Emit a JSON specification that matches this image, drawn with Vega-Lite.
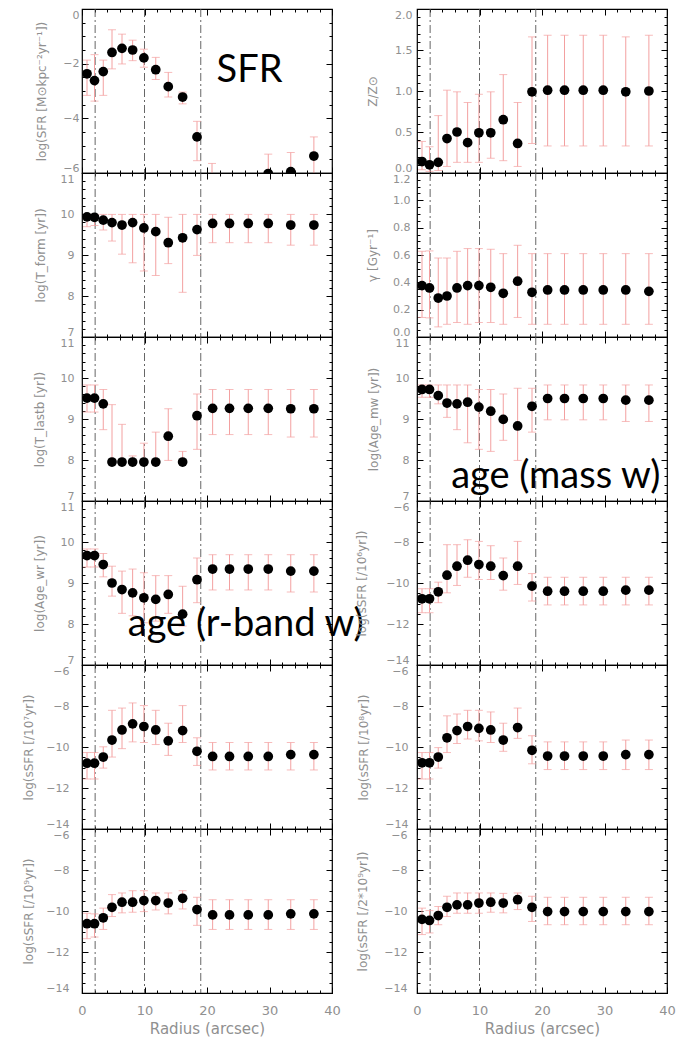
{
"$schema":"https://vega.github.io/schema/vega-lite/v6.json",
"padding":{"left":21,"top":7,"right":5,"bottom":0},
"columns":2,
"spacing":{"row":0,"column":85},
"bounds":"flush",
"datasets":{
"vl":[{"r":2.1},{"r":10},{"r":19}],
"notes":[{"panel":"sfr","r":26.8,"v":-2.68,"label":"SFR"},{"panel":"agemw","r":22.2,"v":7.31,"label":"age (mass w)"},{"panel":"agewr","r":26.2,"v":7.71,"label":"age (r-band w)"}],
"sfr":[{"r":0.8,"v":-2.37,"lo":-3.16,"hi":-1.87},{"r":2.0,"v":-2.62,"lo":-3.37,"hi":-1.67},{"r":3.4,"v":-2.29,"lo":-3.16,"hi":-1.87},{"r":4.8,"v":-1.59,"lo":-2.19,"hi":-0.76},{"r":6.4,"v":-1.44,"lo":-2.01,"hi":-0.92},{"r":8.1,"v":-1.5,"lo":-1.89,"hi":-1.14},{"r":9.9,"v":-1.79,"lo":-2.13,"hi":-1.47},{"r":11.8,"v":-2.22,"lo":-2.58,"hi":-1.77},{"r":13.8,"v":-2.84,"lo":-3.22,"hi":-2.32},{"r":16.1,"v":-3.22,"lo":-3.47,"hi":-3.04},{"r":18.4,"v":-4.68,"lo":-5.55,"hi":-4.11},{"r":20.8,"v":-6.8,"lo":-7.5,"hi":-5.65},{"r":29.8,"v":-6.02,"lo":-6.8,"hi":-5.31},{"r":33.4,"v":-5.95,"lo":-6.7,"hi":-5.25},{"r":37.1,"v":-5.38,"lo":-6.3,"hi":-4.68}],
"z":[{"r":0.8,"v":0.14,"lo":0.04,"hi":0.385},{"r":2.0,"v":0.1,"lo":0.02,"hi":0.32},{"r":3.4,"v":0.13,"lo":0.03,"hi":0.7},{"r":4.8,"v":0.42,"lo":0.08,"hi":1.01},{"r":6.4,"v":0.5,"lo":0.13,"hi":0.99},{"r":8.1,"v":0.37,"lo":0.13,"hi":0.86},{"r":9.9,"v":0.49,"lo":0.13,"hi":0.96},{"r":11.8,"v":0.49,"lo":0.18,"hi":0.99},{"r":13.8,"v":0.65,"lo":0.15,"hi":1.2},{"r":16.1,"v":0.36,"lo":0.08,"hi":0.86},{"r":18.4,"v":0.99,"lo":0.36,"hi":1.66},{"r":20.9,"v":1.01,"lo":0.33,"hi":1.68},{"r":23.6,"v":1.01,"lo":0.33,"hi":1.68},{"r":26.6,"v":1.01,"lo":0.33,"hi":1.68},{"r":29.8,"v":1.01,"lo":0.33,"hi":1.68},{"r":33.4,"v":0.99,"lo":0.33,"hi":1.66},{"r":37.1,"v":1.0,"lo":0.33,"hi":1.68}],
"tform":[{"r":0.8,"v":9.93,"lo":9.69,"hi":9.99},{"r":2.0,"v":9.92,"lo":9.72,"hi":9.99},{"r":3.4,"v":9.85,"lo":9.61,"hi":9.99},{"r":4.8,"v":9.79,"lo":9.34,"hi":9.99},{"r":6.4,"v":9.73,"lo":9.02,"hi":9.99},{"r":8.1,"v":9.79,"lo":8.81,"hi":9.99},{"r":9.9,"v":9.66,"lo":8.61,"hi":9.99},{"r":11.8,"v":9.57,"lo":8.5,"hi":9.99},{"r":13.8,"v":9.3,"lo":8.79,"hi":9.92},{"r":16.1,"v":9.42,"lo":8.09,"hi":9.99},{"r":18.4,"v":9.62,"lo":8.99,"hi":9.99},{"r":20.9,"v":9.77,"lo":9.3,"hi":9.99},{"r":23.6,"v":9.77,"lo":9.3,"hi":9.99},{"r":26.6,"v":9.77,"lo":9.3,"hi":9.99},{"r":29.8,"v":9.77,"lo":9.3,"hi":9.99},{"r":33.4,"v":9.73,"lo":9.24,"hi":9.99},{"r":37.1,"v":9.73,"lo":9.24,"hi":9.99}],
"gamma":[{"r":0.8,"v":0.376,"lo":0.143,"hi":0.627},{"r":2.0,"v":0.359,"lo":0.14,"hi":0.63},{"r":3.4,"v":0.285,"lo":0.074,"hi":0.578},{"r":4.8,"v":0.3,"lo":0.093,"hi":0.578},{"r":6.4,"v":0.359,"lo":0.106,"hi":0.627},{"r":8.1,"v":0.376,"lo":0.093,"hi":0.647},{"r":9.9,"v":0.376,"lo":0.106,"hi":0.647},{"r":11.8,"v":0.364,"lo":0.106,"hi":0.642},{"r":13.8,"v":0.32,"lo":0.093,"hi":0.61},{"r":16.1,"v":0.408,"lo":0.143,"hi":0.671},{"r":18.4,"v":0.327,"lo":0.093,"hi":0.61},{"r":20.9,"v":0.344,"lo":0.093,"hi":0.61},{"r":23.6,"v":0.344,"lo":0.093,"hi":0.61},{"r":26.6,"v":0.344,"lo":0.093,"hi":0.61},{"r":29.8,"v":0.344,"lo":0.093,"hi":0.61},{"r":33.4,"v":0.344,"lo":0.093,"hi":0.61},{"r":37.1,"v":0.334,"lo":0.093,"hi":0.61}],
"tlast":[{"r":0.8,"v":9.51,"lo":9.17,"hi":9.83},{"r":2.0,"v":9.51,"lo":9.17,"hi":9.83},{"r":3.4,"v":9.37,"lo":8.74,"hi":9.72},{"r":4.8,"v":7.95,"lo":7.95,"hi":9.35},{"r":6.4,"v":7.95,"lo":7.95,"hi":8.87},{"r":8.1,"v":7.95,"lo":7.95,"hi":8.1},{"r":9.9,"v":7.95,"lo":7.95,"hi":8.41},{"r":11.8,"v":7.95,"lo":7.95,"hi":8.68},{"r":13.8,"v":8.58,"lo":7.99,"hi":9.25},{"r":16.1,"v":7.95,"lo":7.95,"hi":8.21},{"r":18.4,"v":9.08,"lo":8.26,"hi":9.61},{"r":20.9,"v":9.26,"lo":8.62,"hi":9.72},{"r":23.6,"v":9.26,"lo":8.62,"hi":9.72},{"r":26.6,"v":9.26,"lo":8.62,"hi":9.72},{"r":29.8,"v":9.26,"lo":8.62,"hi":9.72},{"r":33.4,"v":9.25,"lo":8.56,"hi":9.72},{"r":37.1,"v":9.25,"lo":8.56,"hi":9.72}],
"agemw":[{"r":0.8,"v":9.72,"lo":9.53,"hi":9.83},{"r":2.0,"v":9.72,"lo":9.53,"hi":9.83},{"r":3.4,"v":9.57,"lo":9.37,"hi":9.83},{"r":4.8,"v":9.39,"lo":9.04,"hi":9.83},{"r":6.4,"v":9.37,"lo":8.74,"hi":9.83},{"r":8.1,"v":9.41,"lo":8.42,"hi":9.83},{"r":9.9,"v":9.29,"lo":8.26,"hi":9.72},{"r":11.8,"v":9.19,"lo":8.21,"hi":9.72},{"r":13.8,"v":8.99,"lo":8.48,"hi":9.61},{"r":16.1,"v":8.83,"lo":7.99,"hi":9.75},{"r":18.4,"v":9.31,"lo":8.68,"hi":9.75},{"r":20.9,"v":9.5,"lo":8.98,"hi":9.83},{"r":23.6,"v":9.5,"lo":8.98,"hi":9.83},{"r":26.6,"v":9.5,"lo":8.98,"hi":9.83},{"r":29.8,"v":9.5,"lo":8.98,"hi":9.83},{"r":33.4,"v":9.46,"lo":8.94,"hi":9.83},{"r":37.1,"v":9.46,"lo":8.94,"hi":9.83}],
"agewr":[{"r":0.8,"v":9.67,"lo":9.39,"hi":9.83},{"r":2.0,"v":9.67,"lo":9.39,"hi":9.83},{"r":3.4,"v":9.45,"lo":9.15,"hi":9.72},{"r":4.8,"v":9.0,"lo":8.68,"hi":9.41},{"r":6.4,"v":8.84,"lo":8.26,"hi":9.29},{"r":8.1,"v":8.76,"lo":8.2,"hi":9.34},{"r":9.9,"v":8.64,"lo":8.03,"hi":9.25},{"r":11.8,"v":8.6,"lo":8.07,"hi":9.18},{"r":13.8,"v":8.72,"lo":8.26,"hi":9.18},{"r":16.1,"v":8.24,"lo":7.95,"hi":8.92},{"r":18.4,"v":9.08,"lo":8.52,"hi":9.61},{"r":20.9,"v":9.34,"lo":8.83,"hi":9.69},{"r":23.6,"v":9.34,"lo":8.83,"hi":9.69},{"r":26.6,"v":9.34,"lo":8.83,"hi":9.69},{"r":29.8,"v":9.34,"lo":8.83,"hi":9.69},{"r":33.4,"v":9.29,"lo":8.78,"hi":9.69},{"r":37.1,"v":9.29,"lo":8.78,"hi":9.69}],
"ssfr6":[{"r":0.8,"v":-10.77,"lo":-11.45,"hi":-10.28},{"r":2.0,"v":-10.77,"lo":-11.45,"hi":-10.28},{"r":3.4,"v":-10.43,"lo":-10.96,"hi":-9.96},{"r":4.8,"v":-9.62,"lo":-10.48,"hi":-8.13},{"r":6.4,"v":-9.18,"lo":-10.12,"hi":-8.13},{"r":8.1,"v":-8.89,"lo":-9.72,"hi":-7.89},{"r":9.9,"v":-9.1,"lo":-9.83,"hi":-7.97},{"r":11.8,"v":-9.18,"lo":-9.83,"hi":-8.18},{"r":13.8,"v":-9.64,"lo":-10.35,"hi":-8.78},{"r":16.1,"v":-9.18,"lo":-10.07,"hi":-7.97},{"r":18.4,"v":-10.15,"lo":-10.88,"hi":-9.54},{"r":20.9,"v":-10.4,"lo":-11.07,"hi":-9.72},{"r":23.6,"v":-10.4,"lo":-11.07,"hi":-9.72},{"r":26.6,"v":-10.4,"lo":-11.07,"hi":-9.72},{"r":29.8,"v":-10.4,"lo":-11.07,"hi":-9.72},{"r":33.4,"v":-10.35,"lo":-11.07,"hi":-9.72},{"r":37.1,"v":-10.35,"lo":-11.07,"hi":-9.72}],
"ssfr7":[{"r":0.8,"v":-10.79,"lo":-11.56,"hi":-10.27},{"r":2.0,"v":-10.79,"lo":-11.56,"hi":-10.27},{"r":3.4,"v":-10.49,"lo":-11.03,"hi":-9.99},{"r":4.8,"v":-9.66,"lo":-10.49,"hi":-8.21},{"r":6.4,"v":-9.17,"lo":-10.08,"hi":-8.1},{"r":8.1,"v":-8.87,"lo":-9.75,"hi":-7.85},{"r":9.9,"v":-9.0,"lo":-9.78,"hi":-7.98},{"r":11.8,"v":-9.17,"lo":-9.88,"hi":-8.21},{"r":13.8,"v":-9.7,"lo":-10.41,"hi":-8.84},{"r":16.1,"v":-9.2,"lo":-9.78,"hi":-7.98},{"r":18.4,"v":-10.21,"lo":-10.9,"hi":-9.55},{"r":20.9,"v":-10.46,"lo":-11.12,"hi":-9.78},{"r":23.6,"v":-10.46,"lo":-11.12,"hi":-9.78},{"r":26.6,"v":-10.46,"lo":-11.12,"hi":-9.78},{"r":29.8,"v":-10.46,"lo":-11.12,"hi":-9.78},{"r":33.4,"v":-10.37,"lo":-11.12,"hi":-9.78},{"r":37.1,"v":-10.37,"lo":-11.12,"hi":-9.78}],
"ssfr8":[{"r":0.8,"v":-10.77,"lo":-11.56,"hi":-10.27},{"r":2.0,"v":-10.77,"lo":-11.56,"hi":-10.27},{"r":3.4,"v":-10.49,"lo":-11.03,"hi":-10.03},{"r":4.8,"v":-9.55,"lo":-10.27,"hi":-8.48},{"r":6.4,"v":-9.2,"lo":-9.83,"hi":-8.39},{"r":8.1,"v":-9.0,"lo":-9.61,"hi":-8.21},{"r":9.9,"v":-9.09,"lo":-9.7,"hi":-8.21},{"r":11.8,"v":-9.17,"lo":-9.78,"hi":-8.29},{"r":13.8,"v":-9.66,"lo":-10.21,"hi":-8.84},{"r":16.1,"v":-9.05,"lo":-9.58,"hi":-8.1},{"r":18.4,"v":-10.16,"lo":-10.82,"hi":-9.45},{"r":20.9,"v":-10.44,"lo":-11.1,"hi":-9.75},{"r":23.6,"v":-10.44,"lo":-11.1,"hi":-9.75},{"r":26.6,"v":-10.44,"lo":-11.1,"hi":-9.75},{"r":29.8,"v":-10.44,"lo":-11.1,"hi":-9.75},{"r":33.4,"v":-10.37,"lo":-11.1,"hi":-9.66},{"r":37.1,"v":-10.37,"lo":-11.1,"hi":-9.66}],
"ssfr9":[{"r":0.8,"v":-10.62,"lo":-11.35,"hi":-10.11},{"r":2.0,"v":-10.62,"lo":-11.27,"hi":-10.14},{"r":3.4,"v":-10.33,"lo":-10.9,"hi":-9.86},{"r":4.8,"v":-9.82,"lo":-10.27,"hi":-9.2},{"r":6.4,"v":-9.57,"lo":-10.09,"hi":-9.12},{"r":8.1,"v":-9.57,"lo":-10.06,"hi":-9.01},{"r":9.9,"v":-9.49,"lo":-10.03,"hi":-9.01},{"r":11.8,"v":-9.49,"lo":-9.95,"hi":-9.12},{"r":13.8,"v":-9.61,"lo":-10.14,"hi":-9.12},{"r":16.1,"v":-9.38,"lo":-9.9,"hi":-9.01},{"r":18.4,"v":-9.93,"lo":-10.7,"hi":-9.33},{"r":20.9,"v":-10.19,"lo":-10.9,"hi":-9.45},{"r":23.6,"v":-10.19,"lo":-10.9,"hi":-9.45},{"r":26.6,"v":-10.19,"lo":-10.9,"hi":-9.45},{"r":29.8,"v":-10.19,"lo":-10.9,"hi":-9.45},{"r":33.4,"v":-10.14,"lo":-10.9,"hi":-9.45},{"r":37.1,"v":-10.14,"lo":-10.9,"hi":-9.45}],
"ssfr2e9":[{"r":0.8,"v":-10.41,"lo":-11.15,"hi":-9.86},{"r":2.0,"v":-10.46,"lo":-11.07,"hi":-9.98},{"r":3.4,"v":-10.22,"lo":-10.67,"hi":-9.78},{"r":4.8,"v":-9.82,"lo":-10.27,"hi":-9.28},{"r":6.4,"v":-9.7,"lo":-10.11,"hi":-9.12},{"r":8.1,"v":-9.7,"lo":-10.11,"hi":-9.12},{"r":9.9,"v":-9.61,"lo":-10.11,"hi":-9.12},{"r":11.8,"v":-9.57,"lo":-10.06,"hi":-9.12},{"r":13.8,"v":-9.61,"lo":-10.09,"hi":-9.14},{"r":16.1,"v":-9.45,"lo":-9.93,"hi":-9.12},{"r":18.4,"v":-9.82,"lo":-10.51,"hi":-9.28},{"r":20.9,"v":-10.03,"lo":-10.67,"hi":-9.33},{"r":23.6,"v":-10.03,"lo":-10.67,"hi":-9.33},{"r":26.6,"v":-10.03,"lo":-10.67,"hi":-9.33},{"r":29.8,"v":-10.03,"lo":-10.67,"hi":-9.33},{"r":33.4,"v":-10.03,"lo":-10.67,"hi":-9.33},{"r":37.1,"v":-10.03,"lo":-10.67,"hi":-9.33}]
},
"concat":[
{"width":250,"height":164,"data":{"name":"sfr"},"layer":[
{"data":{"name":"vl"},"mark":{"type":"rule","color":"#555555","strokeDash":[8,3,2,3],"strokeWidth":0.9},"encoding":{"x":{"field":"r","type":"quantitative","scale":{"domain":[0,40],"nice":false},"axis":null}}},
{"mark":{"type":"rule","color":"#f3a0a0","strokeWidth":1,"clip":true},"encoding":{"x":{"field":"r","type":"quantitative","scale":{"domain":[0,40],"nice":false},"axis":{"orient":"top","values":[0,10,20,30,40],"labels":false,"tickSize":-6,"title":null}},"y":{"field":"lo","type":"quantitative","scale":{"domain":[-6,0],"nice":false,"zero":false},"axis":{"orient":"right","values":[-6,-4,-2,0],"labels":false,"tickSize":-6,"title":null}},"y2":{"field":"hi"}}},
{"mark":{"type":"tick","orient":"horizontal","color":"#f3a0a0","size":8,"thickness":1,"clip":true},"encoding":{"x":{"field":"r","type":"quantitative","scale":{"domain":[0,40],"nice":false},"axis":{"orient":"bottom","values":[0,2,4,6,8,10,12,14,16,18,20,22,24,26,28,30,32,34,36,38,40],"labels":false,"tickSize":-3,"title":null}},"y":{"field":"lo","type":"quantitative","scale":{"domain":[-6,0],"nice":false,"zero":false},"axis":{"orient":"left","values":[-6,-5.5,-5,-4.5,-4,-3.5,-3,-2.5,-2,-1.5,-1,-0.5,0],"labels":false,"tickSize":-3,"title":null}}}},
{"mark":{"type":"tick","orient":"horizontal","color":"#f3a0a0","size":8,"thickness":1,"clip":true},"encoding":{"x":{"field":"r","type":"quantitative","scale":{"domain":[0,40],"nice":false},"axis":{"orient":"top","values":[0,2,4,6,8,10,12,14,16,18,20,22,24,26,28,30,32,34,36,38,40],"labels":false,"tickSize":-3,"title":null}},"y":{"field":"hi","type":"quantitative","scale":{"domain":[-6,0],"nice":false,"zero":false},"axis":{"orient":"right","values":[-6,-5.5,-5,-4.5,-4,-3.5,-3,-2.5,-2,-1.5,-1,-0.5,0],"labels":false,"tickSize":-3,"title":null}}}},
{"mark":{"type":"circle","color":"black","opacity":1,"size":95,"clip":true},"encoding":{"x":{"field":"r","type":"quantitative","scale":{"domain":[0,40],"nice":false},"axis":{"orient":"bottom","values":[0,10,20,30,40],"labels":false,"tickSize":-6,"title":null}},"y":{"field":"v","type":"quantitative","scale":{"domain":[-6,0],"nice":false,"zero":false},"axis":{"orient":"left","values":[-6,-4,-2,0],"tickSize":-6,"labelFlush":true,"labelPadding":9,"title":"log(SFR [M⊙kpc⁻²yr⁻¹])","titleX":-41,"titleBaseline":"middle"}}}},
{"data":{"name":"notes"},"transform":[{"filter":"datum.panel==='sfr'"}],"mark":{"type":"text","font":"Lato","fontSize":38,"color":"black","align":"center","baseline":"alphabetic"},"encoding":{"x":{"field":"r","type":"quantitative","scale":{"domain":[0,40],"nice":false},"axis":null},"y":{"field":"v","type":"quantitative","scale":{"domain":[-6,0],"nice":false,"zero":false},"axis":null},"text":{"field":"label"}}}
],"resolve":{"axis":{"x":"independent","y":"independent"}}},

{"width":250,"height":164,"data":{"name":"z"},"layer":[
{"data":{"name":"vl"},"mark":{"type":"rule","color":"#555555","strokeDash":[8,3,2,3],"strokeWidth":0.9},"encoding":{"x":{"field":"r","type":"quantitative","scale":{"domain":[0,40],"nice":false},"axis":null}}},
{"mark":{"type":"rule","color":"#f3a0a0","strokeWidth":1,"clip":true},"encoding":{"x":{"field":"r","type":"quantitative","scale":{"domain":[0,40],"nice":false},"axis":{"orient":"top","values":[0,10,20,30,40],"labels":false,"tickSize":-6,"title":null}},"y":{"field":"lo","type":"quantitative","scale":{"domain":[0,2],"nice":false,"zero":false},"axis":{"orient":"right","values":[0,0.5,1,1.5,2],"labels":false,"tickSize":-6,"title":null}},"y2":{"field":"hi"}}},
{"mark":{"type":"tick","orient":"horizontal","color":"#f3a0a0","size":8,"thickness":1,"clip":true},"encoding":{"x":{"field":"r","type":"quantitative","scale":{"domain":[0,40],"nice":false},"axis":{"orient":"bottom","values":[0,2,4,6,8,10,12,14,16,18,20,22,24,26,28,30,32,34,36,38,40],"labels":false,"tickSize":-3,"title":null}},"y":{"field":"lo","type":"quantitative","scale":{"domain":[0,2],"nice":false,"zero":false},"axis":{"orient":"left","values":[0,0.1,0.2,0.3,0.4,0.5,0.6,0.7,0.8,0.9,1,1.1,1.2,1.3,1.4,1.5,1.6,1.7,1.8,1.9,2],"labels":false,"tickSize":-3,"title":null}}}},
{"mark":{"type":"tick","orient":"horizontal","color":"#f3a0a0","size":8,"thickness":1,"clip":true},"encoding":{"x":{"field":"r","type":"quantitative","scale":{"domain":[0,40],"nice":false},"axis":{"orient":"top","values":[0,2,4,6,8,10,12,14,16,18,20,22,24,26,28,30,32,34,36,38,40],"labels":false,"tickSize":-3,"title":null}},"y":{"field":"hi","type":"quantitative","scale":{"domain":[0,2],"nice":false,"zero":false},"axis":{"orient":"right","values":[0,0.1,0.2,0.3,0.4,0.5,0.6,0.7,0.8,0.9,1,1.1,1.2,1.3,1.4,1.5,1.6,1.7,1.8,1.9,2],"labels":false,"tickSize":-3,"title":null}}}},
{"mark":{"type":"circle","color":"black","opacity":1,"size":95,"clip":true},"encoding":{"x":{"field":"r","type":"quantitative","scale":{"domain":[0,40],"nice":false},"axis":{"orient":"bottom","values":[0,10,20,30,40],"labels":false,"tickSize":-6,"title":null}},"y":{"field":"v","type":"quantitative","scale":{"domain":[0,2],"nice":false,"zero":false},"axis":{"orient":"left","values":[0,0.5,1,1.5,2],"format":".1f","tickSize":-6,"labelFlush":true,"labelPadding":11,"title":"Z/Z⊙","titleX":-45,"titleBaseline":"middle"}}}}
],"resolve":{"axis":{"x":"independent","y":"independent"}}},

{"width":250,"height":164,"data":{"name":"tform"},"layer":[
{"data":{"name":"vl"},"mark":{"type":"rule","color":"#555555","strokeDash":[8,3,2,3],"strokeWidth":0.9},"encoding":{"x":{"field":"r","type":"quantitative","scale":{"domain":[0,40],"nice":false},"axis":null}}},
{"mark":{"type":"rule","color":"#f3a0a0","strokeWidth":1,"clip":true},"encoding":{"x":{"field":"r","type":"quantitative","scale":{"domain":[0,40],"nice":false},"axis":{"orient":"top","values":[0,10,20,30,40],"labels":false,"tickSize":-6,"title":null}},"y":{"field":"lo","type":"quantitative","scale":{"domain":[7,11],"nice":false,"zero":false},"axis":{"orient":"right","values":[7,8,9,10,11],"labels":false,"tickSize":-6,"title":null}},"y2":{"field":"hi"}}},
{"mark":{"type":"tick","orient":"horizontal","color":"#f3a0a0","size":8,"thickness":1,"clip":true},"encoding":{"x":{"field":"r","type":"quantitative","scale":{"domain":[0,40],"nice":false},"axis":{"orient":"bottom","values":[0,2,4,6,8,10,12,14,16,18,20,22,24,26,28,30,32,34,36,38,40],"labels":false,"tickSize":-3,"title":null}},"y":{"field":"lo","type":"quantitative","scale":{"domain":[7,11],"nice":false,"zero":false},"axis":{"orient":"left","values":[7,7.2,7.4,7.6,7.8,8,8.2,8.4,8.6,8.8,9,9.2,9.4,9.6,9.8,10,10.2,10.4,10.6,10.8,11],"labels":false,"tickSize":-3,"title":null}}}},
{"mark":{"type":"tick","orient":"horizontal","color":"#f3a0a0","size":8,"thickness":1,"clip":true},"encoding":{"x":{"field":"r","type":"quantitative","scale":{"domain":[0,40],"nice":false},"axis":{"orient":"top","values":[0,2,4,6,8,10,12,14,16,18,20,22,24,26,28,30,32,34,36,38,40],"labels":false,"tickSize":-3,"title":null}},"y":{"field":"hi","type":"quantitative","scale":{"domain":[7,11],"nice":false,"zero":false},"axis":{"orient":"right","values":[7,7.2,7.4,7.6,7.8,8,8.2,8.4,8.6,8.8,9,9.2,9.4,9.6,9.8,10,10.2,10.4,10.6,10.8,11],"labels":false,"tickSize":-3,"title":null}}}},
{"mark":{"type":"circle","color":"black","opacity":1,"size":95,"clip":true},"encoding":{"x":{"field":"r","type":"quantitative","scale":{"domain":[0,40],"nice":false},"axis":{"orient":"bottom","values":[0,10,20,30,40],"labels":false,"tickSize":-6,"title":null}},"y":{"field":"v","type":"quantitative","scale":{"domain":[7,11],"nice":false,"zero":false},"axis":{"orient":"left","values":[7,8,9,10,11],"tickSize":-6,"labelFlush":true,"labelPadding":14,"title":"log(T_form [yr])","titleX":-42,"titleBaseline":"middle"}}}}
],"resolve":{"axis":{"x":"independent","y":"independent"}}},

{"width":250,"height":164,"data":{"name":"gamma"},"layer":[
{"data":{"name":"vl"},"mark":{"type":"rule","color":"#555555","strokeDash":[8,3,2,3],"strokeWidth":0.9},"encoding":{"x":{"field":"r","type":"quantitative","scale":{"domain":[0,40],"nice":false},"axis":null}}},
{"mark":{"type":"rule","color":"#f3a0a0","strokeWidth":1,"clip":true},"encoding":{"x":{"field":"r","type":"quantitative","scale":{"domain":[0,40],"nice":false},"axis":{"orient":"top","values":[0,10,20,30,40],"labels":false,"tickSize":-6,"title":null}},"y":{"field":"lo","type":"quantitative","scale":{"domain":[0,1.2],"nice":false,"zero":false},"axis":{"orient":"right","values":[0,0.2,0.4,0.6,0.8,1,1.2],"labels":false,"tickSize":-6,"title":null}},"y2":{"field":"hi"}}},
{"mark":{"type":"tick","orient":"horizontal","color":"#f3a0a0","size":8,"thickness":1,"clip":true},"encoding":{"x":{"field":"r","type":"quantitative","scale":{"domain":[0,40],"nice":false},"axis":{"orient":"bottom","values":[0,2,4,6,8,10,12,14,16,18,20,22,24,26,28,30,32,34,36,38,40],"labels":false,"tickSize":-3,"title":null}},"y":{"field":"lo","type":"quantitative","scale":{"domain":[0,1.2],"nice":false,"zero":false},"axis":{"orient":"left","values":[0,0.05,0.1,0.15,0.2,0.25,0.3,0.35,0.4,0.45,0.5,0.55,0.6,0.65,0.7,0.75,0.8,0.85,0.9,0.95,1,1.05,1.1,1.15,1.2],"labels":false,"tickSize":-3,"title":null}}}},
{"mark":{"type":"tick","orient":"horizontal","color":"#f3a0a0","size":8,"thickness":1,"clip":true},"encoding":{"x":{"field":"r","type":"quantitative","scale":{"domain":[0,40],"nice":false},"axis":{"orient":"top","values":[0,2,4,6,8,10,12,14,16,18,20,22,24,26,28,30,32,34,36,38,40],"labels":false,"tickSize":-3,"title":null}},"y":{"field":"hi","type":"quantitative","scale":{"domain":[0,1.2],"nice":false,"zero":false},"axis":{"orient":"right","values":[0,0.05,0.1,0.15,0.2,0.25,0.3,0.35,0.4,0.45,0.5,0.55,0.6,0.65,0.7,0.75,0.8,0.85,0.9,0.95,1,1.05,1.1,1.15,1.2],"labels":false,"tickSize":-3,"title":null}}}},
{"mark":{"type":"circle","color":"black","opacity":1,"size":95,"clip":true},"encoding":{"x":{"field":"r","type":"quantitative","scale":{"domain":[0,40],"nice":false},"axis":{"orient":"bottom","values":[0,10,20,30,40],"labels":false,"tickSize":-6,"title":null}},"y":{"field":"v","type":"quantitative","scale":{"domain":[0,1.2],"nice":false,"zero":false},"axis":{"orient":"left","values":[0,0.2,0.4,0.6,0.8,1,1.2],"format":".1f","tickSize":-6,"labelFlush":true,"labelPadding":13,"title":"γ [Gyr⁻¹]","titleX":-45,"titleBaseline":"middle"}}}}
],"resolve":{"axis":{"x":"independent","y":"independent"}}},

{"width":250,"height":164,"data":{"name":"tlast"},"layer":[
{"data":{"name":"vl"},"mark":{"type":"rule","color":"#555555","strokeDash":[8,3,2,3],"strokeWidth":0.9},"encoding":{"x":{"field":"r","type":"quantitative","scale":{"domain":[0,40],"nice":false},"axis":null}}},
{"mark":{"type":"rule","color":"#f3a0a0","strokeWidth":1,"clip":true},"encoding":{"x":{"field":"r","type":"quantitative","scale":{"domain":[0,40],"nice":false},"axis":{"orient":"top","values":[0,10,20,30,40],"labels":false,"tickSize":-6,"title":null}},"y":{"field":"lo","type":"quantitative","scale":{"domain":[7,11],"nice":false,"zero":false},"axis":{"orient":"right","values":[7,8,9,10,11],"labels":false,"tickSize":-6,"title":null}},"y2":{"field":"hi"}}},
{"mark":{"type":"tick","orient":"horizontal","color":"#f3a0a0","size":8,"thickness":1,"clip":true},"encoding":{"x":{"field":"r","type":"quantitative","scale":{"domain":[0,40],"nice":false},"axis":{"orient":"bottom","values":[0,2,4,6,8,10,12,14,16,18,20,22,24,26,28,30,32,34,36,38,40],"labels":false,"tickSize":-3,"title":null}},"y":{"field":"lo","type":"quantitative","scale":{"domain":[7,11],"nice":false,"zero":false},"axis":{"orient":"left","values":[7,7.2,7.4,7.6,7.8,8,8.2,8.4,8.6,8.8,9,9.2,9.4,9.6,9.8,10,10.2,10.4,10.6,10.8,11],"labels":false,"tickSize":-3,"title":null}}}},
{"mark":{"type":"tick","orient":"horizontal","color":"#f3a0a0","size":8,"thickness":1,"clip":true},"encoding":{"x":{"field":"r","type":"quantitative","scale":{"domain":[0,40],"nice":false},"axis":{"orient":"top","values":[0,2,4,6,8,10,12,14,16,18,20,22,24,26,28,30,32,34,36,38,40],"labels":false,"tickSize":-3,"title":null}},"y":{"field":"hi","type":"quantitative","scale":{"domain":[7,11],"nice":false,"zero":false},"axis":{"orient":"right","values":[7,7.2,7.4,7.6,7.8,8,8.2,8.4,8.6,8.8,9,9.2,9.4,9.6,9.8,10,10.2,10.4,10.6,10.8,11],"labels":false,"tickSize":-3,"title":null}}}},
{"mark":{"type":"circle","color":"black","opacity":1,"size":95,"clip":true},"encoding":{"x":{"field":"r","type":"quantitative","scale":{"domain":[0,40],"nice":false},"axis":{"orient":"bottom","values":[0,10,20,30,40],"labels":false,"tickSize":-6,"title":null}},"y":{"field":"v","type":"quantitative","scale":{"domain":[7,11],"nice":false,"zero":false},"axis":{"orient":"left","values":[7,8,9,10,11],"tickSize":-6,"labelFlush":true,"labelPadding":14,"title":"log(T_lastb [yr])","titleX":-43,"titleBaseline":"middle"}}}}
],"resolve":{"axis":{"x":"independent","y":"independent"}}},

{"width":250,"height":164,"data":{"name":"agemw"},"layer":[
{"data":{"name":"vl"},"mark":{"type":"rule","color":"#555555","strokeDash":[8,3,2,3],"strokeWidth":0.9},"encoding":{"x":{"field":"r","type":"quantitative","scale":{"domain":[0,40],"nice":false},"axis":null}}},
{"mark":{"type":"rule","color":"#f3a0a0","strokeWidth":1,"clip":true},"encoding":{"x":{"field":"r","type":"quantitative","scale":{"domain":[0,40],"nice":false},"axis":{"orient":"top","values":[0,10,20,30,40],"labels":false,"tickSize":-6,"title":null}},"y":{"field":"lo","type":"quantitative","scale":{"domain":[7,11],"nice":false,"zero":false},"axis":{"orient":"right","values":[7,8,9,10,11],"labels":false,"tickSize":-6,"title":null}},"y2":{"field":"hi"}}},
{"mark":{"type":"tick","orient":"horizontal","color":"#f3a0a0","size":8,"thickness":1,"clip":true},"encoding":{"x":{"field":"r","type":"quantitative","scale":{"domain":[0,40],"nice":false},"axis":{"orient":"bottom","values":[0,2,4,6,8,10,12,14,16,18,20,22,24,26,28,30,32,34,36,38,40],"labels":false,"tickSize":-3,"title":null}},"y":{"field":"lo","type":"quantitative","scale":{"domain":[7,11],"nice":false,"zero":false},"axis":{"orient":"left","values":[7,7.2,7.4,7.6,7.8,8,8.2,8.4,8.6,8.8,9,9.2,9.4,9.6,9.8,10,10.2,10.4,10.6,10.8,11],"labels":false,"tickSize":-3,"title":null}}}},
{"mark":{"type":"tick","orient":"horizontal","color":"#f3a0a0","size":8,"thickness":1,"clip":true},"encoding":{"x":{"field":"r","type":"quantitative","scale":{"domain":[0,40],"nice":false},"axis":{"orient":"top","values":[0,2,4,6,8,10,12,14,16,18,20,22,24,26,28,30,32,34,36,38,40],"labels":false,"tickSize":-3,"title":null}},"y":{"field":"hi","type":"quantitative","scale":{"domain":[7,11],"nice":false,"zero":false},"axis":{"orient":"right","values":[7,7.2,7.4,7.6,7.8,8,8.2,8.4,8.6,8.8,9,9.2,9.4,9.6,9.8,10,10.2,10.4,10.6,10.8,11],"labels":false,"tickSize":-3,"title":null}}}},
{"mark":{"type":"circle","color":"black","opacity":1,"size":95,"clip":true},"encoding":{"x":{"field":"r","type":"quantitative","scale":{"domain":[0,40],"nice":false},"axis":{"orient":"bottom","values":[0,10,20,30,40],"labels":false,"tickSize":-6,"title":null}},"y":{"field":"v","type":"quantitative","scale":{"domain":[7,11],"nice":false,"zero":false},"axis":{"orient":"left","values":[7,8,9,10,11],"tickSize":-6,"labelFlush":true,"labelPadding":14,"title":"log(Age_mw [yr])","titleX":-44,"titleBaseline":"middle"}}}},
{"data":{"name":"notes"},"transform":[{"filter":"datum.panel==='agemw'"}],"mark":{"type":"text","font":"Lato","fontSize":38,"color":"black","align":"center","baseline":"alphabetic"},"encoding":{"x":{"field":"r","type":"quantitative","scale":{"domain":[0,40],"nice":false},"axis":null},"y":{"field":"v","type":"quantitative","scale":{"domain":[7,11],"nice":false,"zero":false},"axis":null},"text":{"field":"label"}}}
],"resolve":{"axis":{"x":"independent","y":"independent"}}},

{"width":250,"height":164,"data":{"name":"agewr"},"layer":[
{"data":{"name":"vl"},"mark":{"type":"rule","color":"#555555","strokeDash":[8,3,2,3],"strokeWidth":0.9},"encoding":{"x":{"field":"r","type":"quantitative","scale":{"domain":[0,40],"nice":false},"axis":null}}},
{"mark":{"type":"rule","color":"#f3a0a0","strokeWidth":1,"clip":true},"encoding":{"x":{"field":"r","type":"quantitative","scale":{"domain":[0,40],"nice":false},"axis":{"orient":"top","values":[0,10,20,30,40],"labels":false,"tickSize":-6,"title":null}},"y":{"field":"lo","type":"quantitative","scale":{"domain":[7,11],"nice":false,"zero":false},"axis":{"orient":"right","values":[7,8,9,10,11],"labels":false,"tickSize":-6,"title":null}},"y2":{"field":"hi"}}},
{"mark":{"type":"tick","orient":"horizontal","color":"#f3a0a0","size":8,"thickness":1,"clip":true},"encoding":{"x":{"field":"r","type":"quantitative","scale":{"domain":[0,40],"nice":false},"axis":{"orient":"bottom","values":[0,2,4,6,8,10,12,14,16,18,20,22,24,26,28,30,32,34,36,38,40],"labels":false,"tickSize":-3,"title":null}},"y":{"field":"lo","type":"quantitative","scale":{"domain":[7,11],"nice":false,"zero":false},"axis":{"orient":"left","values":[7,7.2,7.4,7.6,7.8,8,8.2,8.4,8.6,8.8,9,9.2,9.4,9.6,9.8,10,10.2,10.4,10.6,10.8,11],"labels":false,"tickSize":-3,"title":null}}}},
{"mark":{"type":"tick","orient":"horizontal","color":"#f3a0a0","size":8,"thickness":1,"clip":true},"encoding":{"x":{"field":"r","type":"quantitative","scale":{"domain":[0,40],"nice":false},"axis":{"orient":"top","values":[0,2,4,6,8,10,12,14,16,18,20,22,24,26,28,30,32,34,36,38,40],"labels":false,"tickSize":-3,"title":null}},"y":{"field":"hi","type":"quantitative","scale":{"domain":[7,11],"nice":false,"zero":false},"axis":{"orient":"right","values":[7,7.2,7.4,7.6,7.8,8,8.2,8.4,8.6,8.8,9,9.2,9.4,9.6,9.8,10,10.2,10.4,10.6,10.8,11],"labels":false,"tickSize":-3,"title":null}}}},
{"mark":{"type":"circle","color":"black","opacity":1,"size":95,"clip":true},"encoding":{"x":{"field":"r","type":"quantitative","scale":{"domain":[0,40],"nice":false},"axis":{"orient":"bottom","values":[0,10,20,30,40],"labels":false,"tickSize":-6,"title":null}},"y":{"field":"v","type":"quantitative","scale":{"domain":[7,11],"nice":false,"zero":false},"axis":{"orient":"left","values":[7,8,9,10,11],"tickSize":-6,"labelFlush":true,"labelPadding":14,"title":"log(Age_wr [yr])","titleX":-43,"titleBaseline":"middle"}}}},
{"data":{"name":"notes"},"transform":[{"filter":"datum.panel==='agewr'"}],"mark":{"type":"text","font":"Lato","fontSize":38,"color":"black","align":"center","baseline":"alphabetic"},"encoding":{"x":{"field":"r","type":"quantitative","scale":{"domain":[0,40],"nice":false},"axis":null},"y":{"field":"v","type":"quantitative","scale":{"domain":[7,11],"nice":false,"zero":false},"axis":null},"text":{"field":"label"}}}
],"resolve":{"axis":{"x":"independent","y":"independent"}}},

{"width":250,"height":164,"data":{"name":"ssfr6"},"layer":[
{"data":{"name":"vl"},"mark":{"type":"rule","color":"#555555","strokeDash":[8,3,2,3],"strokeWidth":0.9},"encoding":{"x":{"field":"r","type":"quantitative","scale":{"domain":[0,40],"nice":false},"axis":null}}},
{"mark":{"type":"rule","color":"#f3a0a0","strokeWidth":1,"clip":true},"encoding":{"x":{"field":"r","type":"quantitative","scale":{"domain":[0,40],"nice":false},"axis":{"orient":"top","values":[0,10,20,30,40],"labels":false,"tickSize":-6,"title":null}},"y":{"field":"lo","type":"quantitative","scale":{"domain":[-14,-6],"nice":false,"zero":false},"axis":{"orient":"right","values":[-14,-12,-10,-8,-6],"labels":false,"tickSize":-6,"title":null}},"y2":{"field":"hi"}}},
{"mark":{"type":"tick","orient":"horizontal","color":"#f3a0a0","size":8,"thickness":1,"clip":true},"encoding":{"x":{"field":"r","type":"quantitative","scale":{"domain":[0,40],"nice":false},"axis":{"orient":"bottom","values":[0,2,4,6,8,10,12,14,16,18,20,22,24,26,28,30,32,34,36,38,40],"labels":false,"tickSize":-3,"title":null}},"y":{"field":"lo","type":"quantitative","scale":{"domain":[-14,-6],"nice":false,"zero":false},"axis":{"orient":"left","values":[-14,-13.5,-13,-12.5,-12,-11.5,-11,-10.5,-10,-9.5,-9,-8.5,-8,-7.5,-7,-6.5,-6],"labels":false,"tickSize":-3,"title":null}}}},
{"mark":{"type":"tick","orient":"horizontal","color":"#f3a0a0","size":8,"thickness":1,"clip":true},"encoding":{"x":{"field":"r","type":"quantitative","scale":{"domain":[0,40],"nice":false},"axis":{"orient":"top","values":[0,2,4,6,8,10,12,14,16,18,20,22,24,26,28,30,32,34,36,38,40],"labels":false,"tickSize":-3,"title":null}},"y":{"field":"hi","type":"quantitative","scale":{"domain":[-14,-6],"nice":false,"zero":false},"axis":{"orient":"right","values":[-14,-13.5,-13,-12.5,-12,-11.5,-11,-10.5,-10,-9.5,-9,-8.5,-8,-7.5,-7,-6.5,-6],"labels":false,"tickSize":-3,"title":null}}}},
{"mark":{"type":"circle","color":"black","opacity":1,"size":95,"clip":true},"encoding":{"x":{"field":"r","type":"quantitative","scale":{"domain":[0,40],"nice":false},"axis":{"orient":"bottom","values":[0,10,20,30,40],"labels":false,"tickSize":-6,"title":null}},"y":{"field":"v","type":"quantitative","scale":{"domain":[-14,-6],"nice":false,"zero":false},"axis":{"orient":"left","values":[-14,-12,-10,-8,-6],"tickSize":-6,"labelFlush":true,"labelPadding":14,"title":"log(sSFR [/10⁶yr])","titleX":-56,"titleBaseline":"middle"}}}}
],"resolve":{"axis":{"x":"independent","y":"independent"}}},

{"width":250,"height":164,"data":{"name":"ssfr7"},"layer":[
{"data":{"name":"vl"},"mark":{"type":"rule","color":"#555555","strokeDash":[8,3,2,3],"strokeWidth":0.9},"encoding":{"x":{"field":"r","type":"quantitative","scale":{"domain":[0,40],"nice":false},"axis":null}}},
{"mark":{"type":"rule","color":"#f3a0a0","strokeWidth":1,"clip":true},"encoding":{"x":{"field":"r","type":"quantitative","scale":{"domain":[0,40],"nice":false},"axis":{"orient":"top","values":[0,10,20,30,40],"labels":false,"tickSize":-6,"title":null}},"y":{"field":"lo","type":"quantitative","scale":{"domain":[-14,-6],"nice":false,"zero":false},"axis":{"orient":"right","values":[-14,-12,-10,-8,-6],"labels":false,"tickSize":-6,"title":null}},"y2":{"field":"hi"}}},
{"mark":{"type":"tick","orient":"horizontal","color":"#f3a0a0","size":8,"thickness":1,"clip":true},"encoding":{"x":{"field":"r","type":"quantitative","scale":{"domain":[0,40],"nice":false},"axis":{"orient":"bottom","values":[0,2,4,6,8,10,12,14,16,18,20,22,24,26,28,30,32,34,36,38,40],"labels":false,"tickSize":-3,"title":null}},"y":{"field":"lo","type":"quantitative","scale":{"domain":[-14,-6],"nice":false,"zero":false},"axis":{"orient":"left","values":[-14,-13.5,-13,-12.5,-12,-11.5,-11,-10.5,-10,-9.5,-9,-8.5,-8,-7.5,-7,-6.5,-6],"labels":false,"tickSize":-3,"title":null}}}},
{"mark":{"type":"tick","orient":"horizontal","color":"#f3a0a0","size":8,"thickness":1,"clip":true},"encoding":{"x":{"field":"r","type":"quantitative","scale":{"domain":[0,40],"nice":false},"axis":{"orient":"top","values":[0,2,4,6,8,10,12,14,16,18,20,22,24,26,28,30,32,34,36,38,40],"labels":false,"tickSize":-3,"title":null}},"y":{"field":"hi","type":"quantitative","scale":{"domain":[-14,-6],"nice":false,"zero":false},"axis":{"orient":"right","values":[-14,-13.5,-13,-12.5,-12,-11.5,-11,-10.5,-10,-9.5,-9,-8.5,-8,-7.5,-7,-6.5,-6],"labels":false,"tickSize":-3,"title":null}}}},
{"mark":{"type":"circle","color":"black","opacity":1,"size":95,"clip":true},"encoding":{"x":{"field":"r","type":"quantitative","scale":{"domain":[0,40],"nice":false},"axis":{"orient":"bottom","values":[0,10,20,30,40],"labels":false,"tickSize":-6,"title":null}},"y":{"field":"v","type":"quantitative","scale":{"domain":[-14,-6],"nice":false,"zero":false},"axis":{"orient":"left","values":[-14,-12,-10,-8,-6],"tickSize":-6,"labelFlush":true,"labelPadding":19,"title":"log(sSFR [/10⁷yr])","titleX":-54,"titleBaseline":"middle"}}}}
],"resolve":{"axis":{"x":"independent","y":"independent"}}},

{"width":250,"height":164,"data":{"name":"ssfr8"},"layer":[
{"data":{"name":"vl"},"mark":{"type":"rule","color":"#555555","strokeDash":[8,3,2,3],"strokeWidth":0.9},"encoding":{"x":{"field":"r","type":"quantitative","scale":{"domain":[0,40],"nice":false},"axis":null}}},
{"mark":{"type":"rule","color":"#f3a0a0","strokeWidth":1,"clip":true},"encoding":{"x":{"field":"r","type":"quantitative","scale":{"domain":[0,40],"nice":false},"axis":{"orient":"top","values":[0,10,20,30,40],"labels":false,"tickSize":-6,"title":null}},"y":{"field":"lo","type":"quantitative","scale":{"domain":[-14,-6],"nice":false,"zero":false},"axis":{"orient":"right","values":[-14,-12,-10,-8,-6],"labels":false,"tickSize":-6,"title":null}},"y2":{"field":"hi"}}},
{"mark":{"type":"tick","orient":"horizontal","color":"#f3a0a0","size":8,"thickness":1,"clip":true},"encoding":{"x":{"field":"r","type":"quantitative","scale":{"domain":[0,40],"nice":false},"axis":{"orient":"bottom","values":[0,2,4,6,8,10,12,14,16,18,20,22,24,26,28,30,32,34,36,38,40],"labels":false,"tickSize":-3,"title":null}},"y":{"field":"lo","type":"quantitative","scale":{"domain":[-14,-6],"nice":false,"zero":false},"axis":{"orient":"left","values":[-14,-13.5,-13,-12.5,-12,-11.5,-11,-10.5,-10,-9.5,-9,-8.5,-8,-7.5,-7,-6.5,-6],"labels":false,"tickSize":-3,"title":null}}}},
{"mark":{"type":"tick","orient":"horizontal","color":"#f3a0a0","size":8,"thickness":1,"clip":true},"encoding":{"x":{"field":"r","type":"quantitative","scale":{"domain":[0,40],"nice":false},"axis":{"orient":"top","values":[0,2,4,6,8,10,12,14,16,18,20,22,24,26,28,30,32,34,36,38,40],"labels":false,"tickSize":-3,"title":null}},"y":{"field":"hi","type":"quantitative","scale":{"domain":[-14,-6],"nice":false,"zero":false},"axis":{"orient":"right","values":[-14,-13.5,-13,-12.5,-12,-11.5,-11,-10.5,-10,-9.5,-9,-8.5,-8,-7.5,-7,-6.5,-6],"labels":false,"tickSize":-3,"title":null}}}},
{"mark":{"type":"circle","color":"black","opacity":1,"size":95,"clip":true},"encoding":{"x":{"field":"r","type":"quantitative","scale":{"domain":[0,40],"nice":false},"axis":{"orient":"bottom","values":[0,10,20,30,40],"labels":false,"tickSize":-6,"title":null}},"y":{"field":"v","type":"quantitative","scale":{"domain":[-14,-6],"nice":false,"zero":false},"axis":{"orient":"left","values":[-14,-12,-10,-8,-6],"tickSize":-6,"labelFlush":true,"labelPadding":15,"title":"log(sSFR [/10⁸yr])","titleX":-54,"titleBaseline":"middle"}}}}
],"resolve":{"axis":{"x":"independent","y":"independent"}}},

{"width":250,"height":164,"data":{"name":"ssfr9"},"layer":[
{"data":{"name":"vl"},"mark":{"type":"rule","color":"#555555","strokeDash":[8,3,2,3],"strokeWidth":0.9},"encoding":{"x":{"field":"r","type":"quantitative","scale":{"domain":[0,40],"nice":false},"axis":null}}},
{"mark":{"type":"rule","color":"#f3a0a0","strokeWidth":1,"clip":true},"encoding":{"x":{"field":"r","type":"quantitative","scale":{"domain":[0,40],"nice":false},"axis":{"orient":"top","values":[0,10,20,30,40],"labels":false,"tickSize":-6,"title":null}},"y":{"field":"lo","type":"quantitative","scale":{"domain":[-14,-6],"nice":false,"zero":false},"axis":{"orient":"right","values":[-14,-12,-10,-8,-6],"labels":false,"tickSize":-6,"title":null}},"y2":{"field":"hi"}}},
{"mark":{"type":"tick","orient":"horizontal","color":"#f3a0a0","size":8,"thickness":1,"clip":true},"encoding":{"x":{"field":"r","type":"quantitative","scale":{"domain":[0,40],"nice":false},"axis":{"orient":"bottom","values":[0,2,4,6,8,10,12,14,16,18,20,22,24,26,28,30,32,34,36,38,40],"labels":false,"tickSize":-3,"title":null}},"y":{"field":"lo","type":"quantitative","scale":{"domain":[-14,-6],"nice":false,"zero":false},"axis":{"orient":"left","values":[-14,-13.5,-13,-12.5,-12,-11.5,-11,-10.5,-10,-9.5,-9,-8.5,-8,-7.5,-7,-6.5,-6],"labels":false,"tickSize":-3,"title":null}}}},
{"mark":{"type":"tick","orient":"horizontal","color":"#f3a0a0","size":8,"thickness":1,"clip":true},"encoding":{"x":{"field":"r","type":"quantitative","scale":{"domain":[0,40],"nice":false},"axis":{"orient":"top","values":[0,2,4,6,8,10,12,14,16,18,20,22,24,26,28,30,32,34,36,38,40],"labels":false,"tickSize":-3,"title":null}},"y":{"field":"hi","type":"quantitative","scale":{"domain":[-14,-6],"nice":false,"zero":false},"axis":{"orient":"right","values":[-14,-13.5,-13,-12.5,-12,-11.5,-11,-10.5,-10,-9.5,-9,-8.5,-8,-7.5,-7,-6.5,-6],"labels":false,"tickSize":-3,"title":null}}}},
{"mark":{"type":"circle","color":"black","opacity":1,"size":95,"clip":true},"encoding":{"x":{"field":"r","type":"quantitative","scale":{"domain":[0,40],"nice":false},"axis":{"orient":"bottom","values":[0,10,20,30,40],"tickSize":-6,"labelFlush":false,"labelPadding":17,"labelFontSize":13,"title":"Radius (arcsec)","titleFontSize":15,"titlePadding":4}},"y":{"field":"v","type":"quantitative","scale":{"domain":[-14,-6],"nice":false,"zero":false},"axis":{"orient":"left","values":[-14,-12,-10,-8,-6],"tickSize":-6,"labelFlush":true,"labelPadding":19,"title":"log(sSFR [/10⁹yr])","titleX":-54,"titleBaseline":"middle"}}}}
],"resolve":{"axis":{"x":"independent","y":"independent"}}},

{"width":250,"height":164,"data":{"name":"ssfr2e9"},"layer":[
{"data":{"name":"vl"},"mark":{"type":"rule","color":"#555555","strokeDash":[8,3,2,3],"strokeWidth":0.9},"encoding":{"x":{"field":"r","type":"quantitative","scale":{"domain":[0,40],"nice":false},"axis":null}}},
{"mark":{"type":"rule","color":"#f3a0a0","strokeWidth":1,"clip":true},"encoding":{"x":{"field":"r","type":"quantitative","scale":{"domain":[0,40],"nice":false},"axis":{"orient":"top","values":[0,10,20,30,40],"labels":false,"tickSize":-6,"title":null}},"y":{"field":"lo","type":"quantitative","scale":{"domain":[-14,-6],"nice":false,"zero":false},"axis":{"orient":"right","values":[-14,-12,-10,-8,-6],"labels":false,"tickSize":-6,"title":null}},"y2":{"field":"hi"}}},
{"mark":{"type":"tick","orient":"horizontal","color":"#f3a0a0","size":8,"thickness":1,"clip":true},"encoding":{"x":{"field":"r","type":"quantitative","scale":{"domain":[0,40],"nice":false},"axis":{"orient":"bottom","values":[0,2,4,6,8,10,12,14,16,18,20,22,24,26,28,30,32,34,36,38,40],"labels":false,"tickSize":-3,"title":null}},"y":{"field":"lo","type":"quantitative","scale":{"domain":[-14,-6],"nice":false,"zero":false},"axis":{"orient":"left","values":[-14,-13.5,-13,-12.5,-12,-11.5,-11,-10.5,-10,-9.5,-9,-8.5,-8,-7.5,-7,-6.5,-6],"labels":false,"tickSize":-3,"title":null}}}},
{"mark":{"type":"tick","orient":"horizontal","color":"#f3a0a0","size":8,"thickness":1,"clip":true},"encoding":{"x":{"field":"r","type":"quantitative","scale":{"domain":[0,40],"nice":false},"axis":{"orient":"top","values":[0,2,4,6,8,10,12,14,16,18,20,22,24,26,28,30,32,34,36,38,40],"labels":false,"tickSize":-3,"title":null}},"y":{"field":"hi","type":"quantitative","scale":{"domain":[-14,-6],"nice":false,"zero":false},"axis":{"orient":"right","values":[-14,-13.5,-13,-12.5,-12,-11.5,-11,-10.5,-10,-9.5,-9,-8.5,-8,-7.5,-7,-6.5,-6],"labels":false,"tickSize":-3,"title":null}}}},
{"mark":{"type":"circle","color":"black","opacity":1,"size":95,"clip":true},"encoding":{"x":{"field":"r","type":"quantitative","scale":{"domain":[0,40],"nice":false},"axis":{"orient":"bottom","values":[0,10,20,30,40],"tickSize":-6,"labelFlush":false,"labelPadding":17,"labelFontSize":13,"title":"Radius (arcsec)","titleFontSize":15,"titlePadding":4}},"y":{"field":"v","type":"quantitative","scale":{"domain":[-14,-6],"nice":false,"zero":false},"axis":{"orient":"left","values":[-14,-12,-10,-8,-6],"tickSize":-6,"labelFlush":true,"labelPadding":16,"title":"log(sSFR [/2*10⁹yr])","titleX":-55,"titleBaseline":"middle"}}}}
],"resolve":{"axis":{"x":"independent","y":"independent"}}}
],
"config":{
"view":{"stroke":"black","strokeWidth":1.2},
"axis":{"domain":false,"grid":false,"tickColor":"black","tickWidth":1,"labelColor":"#909090","titleColor":"#909090","labelFont":"DejaVu Sans","titleFont":"DejaVu Sans","labelFontSize":11,"titleFontSize":12,"titleFontWeight":"normal"}
}
}
